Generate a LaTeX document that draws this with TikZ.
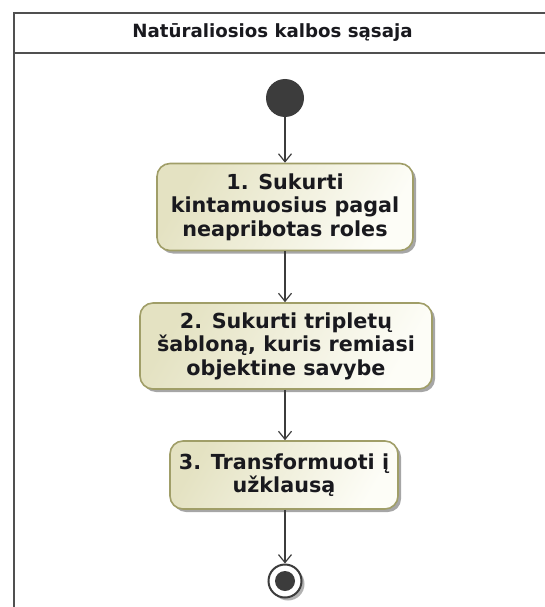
\documentclass[tikz,border=0pt]{standalone}
\usepackage{fontspec}
\setmainfont{DejaVu Sans}
\usetikzlibrary{arrows.meta,shadows}
\definecolor{framegray}{RGB}{80,80,80}
\definecolor{flowgray}{RGB}{60,60,60}
\definecolor{actborder}{RGB}{160,158,104}
\definecolor{actdark}{RGB}{228,226,194}
\definecolor{actlight}{RGB}{253,253,247}
\definecolor{inkdark}{RGB}{25,25,30}
\tikzset{
  frameline/.style={draw=framegray, line width=2.2pt},
  action/.style={rectangle, rounded corners=13pt, draw=actborder, line width=1.6pt,
    left color=actdark, right color=actlight, shading angle=60,
    drop shadow={shadow xshift=3pt, shadow yshift=-3pt, fill=black, opacity=0.35},
    align=center, text=inkdark, inner sep=0pt,
    font=\bfseries\fontsize{20.7}{23.5}\selectfont},
  flow/.style={draw=flowgray, line width=1.3pt,
    -{Straight Barb[length=8pt,width=13pt,line width=1.2pt]}},
  startnode/.style={circle, fill=flowgray, minimum size=38pt, inner sep=0pt},
  endring/.style={circle, draw=flowgray, fill=white, line width=2pt, minimum size=33pt, inner sep=0pt,
    drop shadow={shadow xshift=3pt, shadow yshift=-3pt, fill=black, opacity=0.3}},
  enddot/.style={circle, fill=flowgray, minimum size=20pt, inner sep=0pt},
}
\begin{document}
\begin{tikzpicture}[x=1pt,y=-1pt]
  \useasboundingbox (0,0) rectangle (544,607);
  \fill[white] (0,0) rectangle (544,607);

  % swimlane frame with header
  \draw[frameline] (14,620) -- (14,13) -- (560,13);
  \draw[frameline] (14,53) -- (560,53);
  \node (title) at (272.5,33) {\bfseries\fontsize{18.2}{22}\selectfont\color{inkdark}Natūraliosios kalbos sąsaja};

  % initial node
  \node[startnode] (init) at (285,98) {};

  % actions
  \node[action, minimum width=256pt, minimum height=87pt] (a1) at (285,207)
    {1. Sukurti\\kintamuosius pagal\\neapribotas roles};
  \node[action, minimum width=292pt, minimum height=86pt] (a2) at (286,346)
    {2. Sukurti tripletų\\šabloną, kuris remiasi\\objektine savybe};
  \node[action, minimum width=228pt, minimum height=68pt] (a3) at (284,475)
    {3. Transformuoti į\\užklausą};

  % final node
  \node[endring] (final) at (285,581) {};
  \node[enddot] (finaldot) at (final.center) {};

  % control flows
  \draw[flow] (init.south) -- (init.south |- a1.north);
  \draw[flow] (a1.south -| init) -- (init |- a2.north);
  \draw[flow] (a2.south -| init) -- (init |- a3.north);
  \draw[flow] (a3.south -| init) -- (final.north);
\end{tikzpicture}
\end{document}
